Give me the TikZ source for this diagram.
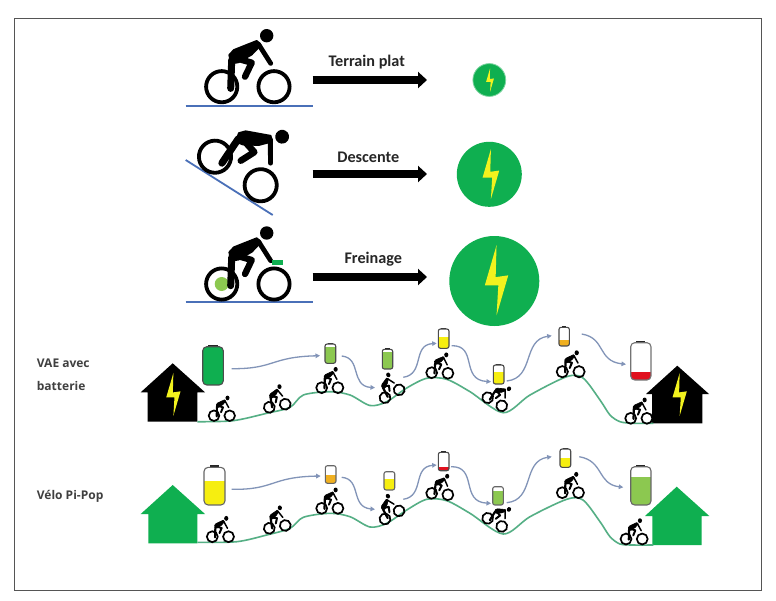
\documentclass[tikz,border=0pt]{standalone}
\usepackage{fontspec}
\usetikzlibrary{arrows.meta}
\setmainfont{Carlito}
\newfontfamily\lblfont{Open Sans}
\definecolor{framecol}{HTML}{555555}
\definecolor{leaf}{HTML}{0FAF50}
\definecolor{limeg}{HTML}{8CC850}
\definecolor{volt}{HTML}{F2F21E}
\definecolor{ground}{HTML}{4A70B8}
\definecolor{hill}{HTML}{55AF85}
\definecolor{flow}{HTML}{8294B8}
\definecolor{amber}{HTML}{F0B020}
\definecolor{redlvl}{HTML}{E0101E}
\definecolor{yel}{HTML}{F6EE10}
\definecolor{txtgrey}{HTML}{404040}
\tikzset{
  x=1pt,y=-1pt,
  groundline/.style={ground,line width=1.8pt},
  bigarrow/.style={-{Triangle[length=9pt,width=16pt]},line width=8pt,black},
  hillline/.style={hill,line width=1.6pt,smooth,tension=0.5},
  flowline/.style={flow,line width=1.3pt,-{Triangle[length=4.5pt,width=4.5pt]}},
  toptext/.style={font=\bfseries\fontsize{16.2}{18}\selectfont,text=black!85,inner sep=0pt},
  sidetext/.style={font=\lblfont\bfseries\fontsize{12}{14}\selectfont,text=txtgrey,inner sep=0pt,anchor=west},
}
% bolt: centre x,y; size k
\newcommand{\boltshape}[5][volt]{%
  \fill[#1,shift={(#2,#3)},xscale=#4,yscale=#5] (0.05,-0.84) -- (-0.21,0.05) -- (0.09,0.05) -- (0.05,0.72) -- (0.31,-0.17) -- (0.03,-0.13) -- cycle;}
% cyclist: x,y of rear wheel, scale, rotation, wheel stroke
\newcommand{\cyclist}[5]{%
  \begin{scope}[shift={(#1,#2)},rotate=#4,scale=#3]
    \pgfmathsetmacro{\cs}{#3}
    \pgfmathsetmacro{\wr}{15.6+(3.8-#5)*0.95}
    \pgfmathsetmacro{\by}{ifthenelse(#3<0.5,1.16,1)}
    \draw[black,line width=#5pt] (0,0) circle[radius=\wr];
    \draw[black,line width=#5pt] (52.3,0) circle[radius=\wr];
    \begin{scope}[yscale=\by]
    \filldraw[black,line join=round,line width=\cs*2pt] (7.7,-31.7) -- (12.2,-36.6) -- (35,-45.7) -- (39,-41.7) -- (30,-32.3) -- (16.7,-24.5) -- (9.3,-23.3) -- cycle;
    \draw[black,line width=\cs*7pt,line cap=round] (10,-26.7) -- (9,1.7);
    \draw[black,line width=\cs*6.4pt,line cap=round,line join=round] (15,-28.3) -- (30,-24) -- (23.3,-10);
    \draw[black,line width=\cs*4.8pt,line cap=round] (36.7,-42.7) -- (49,-23.3);
    \fill[black] (45,-51) circle[radius=6.7];
    \end{scope}
  \end{scope}}
% battery: x0,y0,x1,y1, level fraction, colour, outline colour
\newcommand{\battery}[7]{%
  \pgfmathsetmacro{\bh}{(#4-#2)}
  \pgfmathsetmacro{\bw}{(#3-#1)}
  \pgfmathsetmacro{\lvl}{#4-#5*\bh}
  \pgfmathsetmacro{\capw}{0.22*\bw}
  \pgfmathsetmacro{\capx}{(#1+#3)/2}
  \pgfmathsetmacro{\rr}{0.2*\bw}
  \pgfmathsetmacro{\capy}{#2-0.055*\bh}
  \fill[black!85] (\capx-\capw,\capy) rectangle (\capx+\capw,#2+0.5);
  \begin{scope}
    \clip[rounded corners=\rr pt] (#1,#2) rectangle (#3,#4);
    \fill[white] (#1,#2) rectangle (#3,#4);
    \fill[#6] (#1,\lvl) rectangle (#3,#4);
  \end{scope}
  \draw[#7,line width=1.1pt,rounded corners=\rr pt] (#1,#2) rectangle (#3,#4);}
\begin{document}
\begin{tikzpicture}
\useasboundingbox (0,0) rectangle (776,600);
\fill[white] (0,0) rectangle (776,600);
\draw[framecol,line width=1.2pt] (14.3,18.3) rectangle (761.5,590.5);
% top rows
\draw[groundline] (185.7,105.7) -- (313,105.7);
\draw[groundline] (185.7,160) -- (272.7,215);
\draw[groundline] (185.7,301.7) -- (313,301.7);
\cyclist{221.7}{86.7}{1}{0}{3.8}
\cyclist{215}{156.7}{1.03}{-32}{3.8}
\fill[limeg] (221.7,284) circle[radius=7];
\cyclist{221.7}{284}{1}{0}{3.8}
\fill[leaf] (271.5,259.5) rectangle (282.5,264.5);
\coordinate (a1s) at (312.7,80); \coordinate (a1e) at (427,80);
\coordinate (a2s) at (312.7,174); \coordinate (a2e) at (427,174);
\coordinate (a3s) at (312.7,277); \coordinate (a3e) at (427,277);
\draw[bigarrow] (a1s) -- (a1e);
\draw[bigarrow] (a2s) -- (a2e);
\draw[bigarrow] (a3s) -- (a3e);
\node[toptext] (t1) at (366.7,62.3) {Terrain plat};
\node[toptext] (t2) at (368.3,157.7) {Descente};
\node[toptext] (t3) at (373.3,259) {Freinage};
\filldraw[leaf,draw=leaf!55!white,line width=0.8pt] (489.3,80) circle[radius=16.4];
\fill[leaf] (489.3,174.3) circle[radius=32.5];
\fill[leaf] (494.3,281) circle[radius=45];
\boltshape{489.3}{81}{15}{15}
\boltshape{489.3}{176}{32}{32}
\boltshape{494.3}{283}{45}{45}
% labels
\node[sidetext] (l1) at (36.7,363.3) {VAE avec};
\node[sidetext] (l2) at (36.7,386) {batterie};
\node[sidetext] (l3) at (36.7,496) {Vélo Pi-Pop};
% houses
\fill[black] (172.7,363.3) -- (205,392.3) -- (197.3,392.3) -- (197.3,421.7) -- (147.7,421.7) -- (147.7,392.3) -- (140.7,392.3) -- cycle;
\boltshape{172}{396}{27.5}{27.5}
\fill[black] (677.3,365.7) -- (709,394) -- (702.3,394) -- (702.3,423.3) -- (652,423.3) -- (652,394) -- (646,394) -- cycle;
\boltshape{678.3}{396}{27.5}{27.5}
\fill[leaf] (172.7,485) -- (205,514) -- (197.3,514) -- (197.3,543.3) -- (148.3,543.3) -- (148.3,514) -- (140.7,514) -- cycle;
\fill[leaf] (676.7,486.7) -- (709.3,516) -- (701.7,516) -- (701.7,545) -- (652.3,545) -- (652.3,516) -- (645,516) -- cycle;
% hills
\draw[hillline] plot coordinates {(197.3,421.7) (233,420.7) (266.7,413.3) (290,407.3) (303.3,395) (330,391.7) (350,395) (370,405.5) (386.7,401.7) (406.7,388) (426.7,378.3) (446.7,379.3) (470,391.7) (503.3,412.7) (530,395) (566.7,376.7) (583,378) (600,400) (610,415) (620,421.7) (633,423.3) (653.3,423.3)};
\draw[hillline] plot coordinates {(197.3,542.3) (236.7,541.7) (266.7,535) (290,528.3) (303.3,517.3) (330,513.3) (350,516.7) (370,527) (386.7,523.3) (406.7,510) (426.7,499.3) (446.7,500.7) (470,513.3) (503.3,534) (530,516.7) (566.7,499.3) (583,500) (600,521.7) (610,536.7) (620,544) (633,545) (653.3,545)};
% small cyclists row 1
\cyclist{214}{415.7}{0.3}{0}{1.7}
\cyclist{269.3}{407.3}{0.31}{11}{1.7}
\cyclist{321.7}{387.7}{0.31}{0}{1.7}
\cyclist{385}{397.7}{0.31}{29}{1.7}
\cyclist{431.7}{372.7}{0.31}{-2}{1.7}
\cyclist{487.7}{397.7}{0.31}{-30}{1.7}
\cyclist{562.3}{371.7}{0.32}{0}{1.7}
\cyclist{630.7}{418.3}{0.31}{0}{1.7}
% small cyclists row 2
\cyclist{212.3}{536.7}{0.31}{0}{1.7}
\cyclist{269.3}{528.3}{0.31}{10}{1.7}
\cyclist{321.7}{508.3}{0.31}{0}{1.7}
\cyclist{385}{519}{0.31}{30}{1.7}
\cyclist{431.7}{493.3}{0.31}{-5}{1.7}
\cyclist{487.7}{518.3}{0.31}{-30}{1.7}
\cyclist{562.3}{492.7}{0.31}{0}{1.7}
\cyclist{626}{539}{0.31}{0}{1.7}
% batteries row 1
\battery{202.7}{346.7}{223.3}{385}{1}{leaf}{black!70}
\battery{325}{344}{335.7}{363.3}{0.82}{limeg}{black!70}
\battery{382.3}{349.3}{392.7}{369}{0.85}{limeg}{black!70}
\battery{438.3}{329}{449}{348.3}{0.6}{yel}{black!70}
\battery{493.3}{365}{504}{384}{0.65}{yel}{black!70}
\battery{559}{327.3}{569.3}{346}{0.3}{amber}{black!70}
\battery{630.7}{342.7}{651}{380}{0.22}{redlvl}{black!55}
% batteries row 2
\battery{204}{467.3}{225}{505}{0.65}{yel}{black!60}
\battery{325.3}{465.7}{336}{483.3}{0.45}{amber}{black!60}
\battery{384}{471.7}{394.7}{490}{0.6}{yel}{black!60}
\battery{438.3}{452.3}{449}{470.7}{0.2}{redlvl}{black!70}
\battery{492.7}{486.7}{503.3}{505}{0.75}{limeg}{black!60}
\battery{560}{449}{570.7}{467.3}{0.5}{yel}{black!70}
\battery{630.7}{466.7}{651}{505}{0.72}{limeg}{black!60}
% flows row 1
\coordinate (f1a) at (231.7,368.7); \coordinate (f1b) at (320,355.7);
\coordinate (f2a) at (341.7,356); \coordinate (f2b) at (375,387.7);
\coordinate (f3a) at (403.3,377.3); \coordinate (f3b) at (436.7,343.3);
\coordinate (f4a) at (451.7,345.7); \coordinate (f4b) at (491,381.7);
\coordinate (f5a) at (506.7,381); \coordinate (f5b) at (551.7,335.7);
\coordinate (f6a) at (581.7,334); \coordinate (f6b) at (626,364.3);
\draw[flowline] (f1a) .. controls (275,369) and (270,357) .. (f1b);
\draw[flowline] (f2a) .. controls (362,358) and (350,386) .. (f2b);
\draw[flowline] (f3a) .. controls (425,374) and (412,345) .. (f3b);
\draw[flowline] (f4a) .. controls (478,345) and (460,380) .. (f4b);
\draw[flowline] (f5a) .. controls (535,378) and (522,340) .. (f5b);
\draw[flowline] (f6a) .. controls (606,338) and (597,361) .. (f6b);
% flows row 2
\coordinate (g1a) at (231.7,489.3); \coordinate (g1b) at (320.7,476);
\coordinate (g2a) at (341.7,477.3); \coordinate (g2b) at (375,509.3);
\coordinate (g3a) at (403.3,499.3); \coordinate (g3b) at (436.7,465);
\coordinate (g4a) at (451,466.7); \coordinate (g4b) at (491,503.3);
\coordinate (g5a) at (506.7,502.7); \coordinate (g5b) at (551.7,456.7);
\coordinate (g6a) at (579.3,456.7); \coordinate (g6b) at (623.3,487.3);
\draw[flowline] (g1a) .. controls (275,490) and (270,477) .. (g1b);
\draw[flowline] (g2a) .. controls (362,479) and (350,507) .. (g2b);
\draw[flowline] (g3a) .. controls (425,496) and (412,467) .. (g3b);
\draw[flowline] (g4a) .. controls (478,466) and (460,502) .. (g4b);
\draw[flowline] (g5a) .. controls (535,500) and (522,461) .. (g5b);
\draw[flowline] (g6a) .. controls (604,461) and (597,484) .. (g6b);
\end{tikzpicture}
\end{document}
